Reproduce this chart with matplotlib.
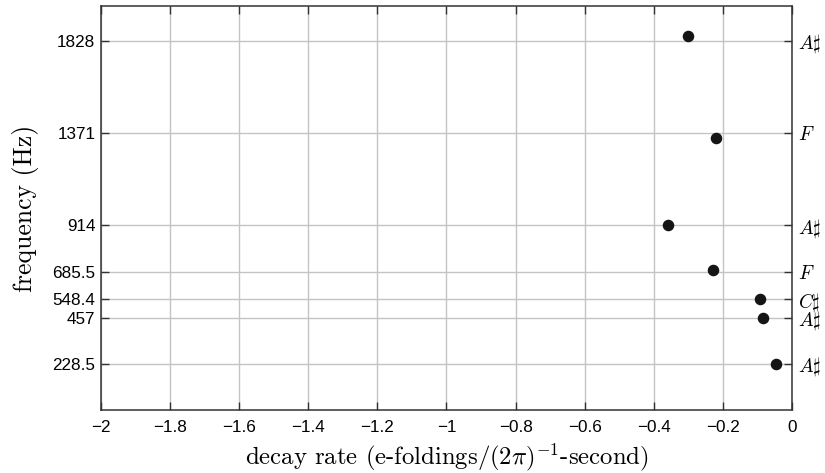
import matplotlib
matplotlib.use("Agg")
import matplotlib.pyplot as plt

# data
decay_rate = [-0.047, -0.084, -0.093, -0.228, -0.359, -0.219, -0.300]
frequency = [228.5, 457, 548.4, 695, 914, 1349, 1850]

ytick_vals = [228.5, 457, 548.4, 685.5, 914, 1371, 1828]
ytick_labels = ["228.5", "457", "548.4", "685.5", "914", "1371", "1828"]
note_labels = [r"$A\sharp$", r"$A\sharp$", r"$C\sharp$", r"$F$", r"$A\sharp$", r"$F$", r"$A\sharp$"]
xtick_vals = [-2, -1.8, -1.6, -1.4, -1.2, -1, -0.8, -0.6, -0.4, -0.2, 0]
xtick_labels = ["\u22122", "\u22121.8", "\u22121.6", "\u22121.4", "\u22121.2", "\u22121",
                "\u22120.8", "\u22120.6", "\u22120.4", "\u22120.2", "0"]

plt.rcParams["mathtext.fontset"] = "cm"
plt.rcParams["font.family"] = "Liberation Sans"
plt.rcParams["axes.unicode_minus"] = False

fig = plt.figure(figsize=(8.25, 4.73), dpi=100)
ax = fig.add_axes([0.1224, 0.1332, 0.8376, 0.8541])

ax.plot(decay_rate, frequency, "o", color="#151515", markersize=7.3, zorder=3)

ax.set_xlim(-2, 0)
ax.set_ylim(0, 2000)
ax.set_xticks(xtick_vals)
ax.set_xticklabels(xtick_labels)
ax.set_yticks(ytick_vals)
ax.set_yticklabels(ytick_labels)
ax.grid(True, color="#c4c4c4", linewidth=1.0)
ax.tick_params(direction="in", length=6, width=1, color="#333333", labelsize=12.3,
               top=True, pad=4)
ax.tick_params(axis="x", pad=7)
for s in ax.spines.values():
    s.set_color("#333333")
    s.set_linewidth(1.1)

# note names on the right
ax2 = ax.twinx()
ax2.set_ylim(ax.get_ylim())
ax2.set_yticks(ytick_vals)
ax2.set_yticklabels(note_labels)
ax2.tick_params(direction="in", length=6, width=1, color="#333333", labelsize=14, pad=4)
for s in ax2.spines.values():
    s.set_visible(False)

ax.set_xlabel(r"decay rate (e-foldings/$(2\pi)^{-1}$-second)", family="cmr10",
              fontsize=17.8, labelpad=5)
ax.set_ylabel("frequency (Hz)", family="cmr10", fontsize=18.5, labelpad=10)

fig.savefig("out.png", dpi=100)
